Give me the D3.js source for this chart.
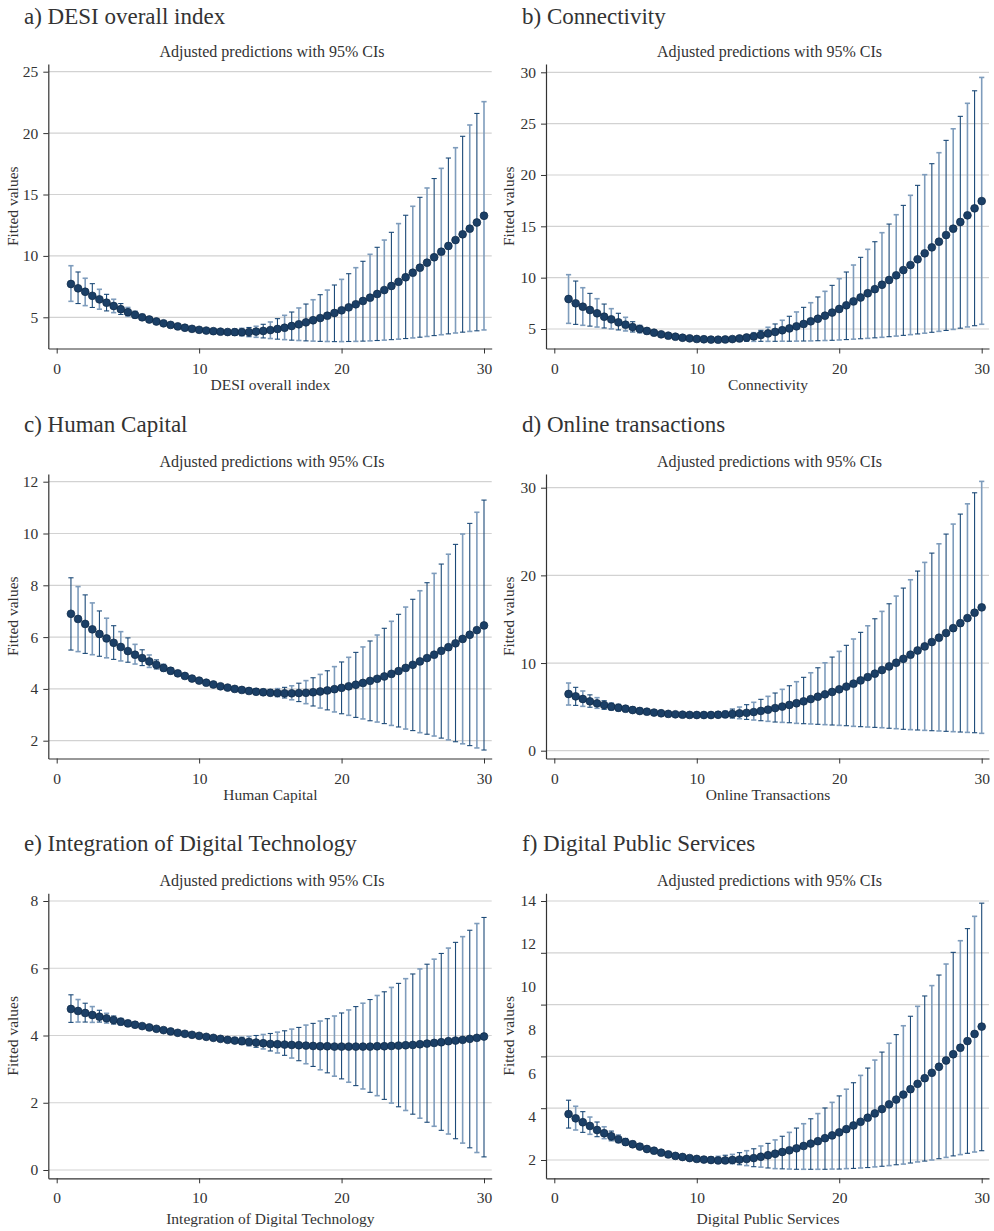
<!DOCTYPE html>
<html>
<head>
<meta charset="utf-8">
<script src="https://cdn.jsdelivr.net/npm/d3@7"></script>
<style>
  html, body { margin: 0; padding: 0; background: #fff; }
  svg { display: block; }
  text { font-family: "Liberation Serif", "DejaVu Serif", serif; fill: #333; }
</style>
</head>
<body>
<svg id="chart" width="994" height="1231"></svg>
<script>
// Evaluation points of the regressor
const xGrid = [1,1.5,2,2.5,3,3.5,4,4.5,5,5.5,6,6.5,7,7.5,8,8.5,9,9.5,10,10.5,
  11,11.5,12,12.5,13,13.5,14,14.5,15,15.5,16,16.5,17,17.5,18,18.5,19,19.5,20,20.5,
  21,21.5,22,22.5,23,23.5,24,24.5,25,25.5,26,26.5,27,27.5,28,28.5,29,29.5,30];

// a) DESI overall index
const desiFit = [7.71,7.36,7.08,6.75,6.46,6.19,5.92,5.66,5.42,5.20,
  5.00,4.82,4.66,4.51,4.38,4.26,4.15,4.06,3.98,3.92,
  3.87,3.83,3.80,3.79,3.79,3.80,3.84,3.89,3.96,4.05,
  4.15,4.29,4.43,4.59,4.76,4.94,5.13,5.35,5.57,5.81,
  6.06,6.33,6.60,6.90,7.22,7.55,7.89,8.26,8.63,9.04,
  9.45,9.89,10.34,10.81,11.29,11.76,12.22,12.72,13.27];
const desiHi = [9.20,8.69,8.18,7.74,7.28,6.87,6.47,6.12,5.80,5.50,
  5.24,5.02,4.83,4.67,4.52,4.39,4.28,4.19,4.11,4.06,
  4.03,4.01,4.02,4.05,4.10,4.17,4.27,4.43,4.62,4.89,
  5.16,5.43,5.76,6.08,6.43,6.84,7.22,7.63,8.09,8.55,
  9.04,9.56,10.13,10.70,11.29,11.92,12.63,13.31,14.04,14.77,
  15.53,16.30,17.13,17.97,18.81,19.74,20.66,21.60,22.56];
const desiLo = [6.30,6.12,5.95,5.80,5.66,5.52,5.38,5.23,5.08,4.93,
  4.78,4.63,4.50,4.36,4.24,4.13,4.03,3.94,3.85,3.78,
  3.71,3.65,3.59,3.53,3.48,3.42,3.37,3.32,3.27,3.22,
  3.18,3.14,3.11,3.08,3.06,3.04,3.03,3.02,3.02,3.03,
  3.04,3.06,3.08,3.11,3.14,3.18,3.22,3.27,3.32,3.38,
  3.44,3.51,3.58,3.65,3.72,3.79,3.85,3.90,3.97];
const desiTicks = [5,10,15,20,25];

// b) Connectivity
const connFit = [7.92,7.50,7.17,6.85,6.53,6.20,5.94,5.65,5.42,5.19,
  5.00,4.81,4.64,4.48,4.35,4.25,4.15,4.09,4.03,4.00,
  3.97,3.96,3.98,4.02,4.08,4.17,4.28,4.42,4.57,4.72,
  4.88,5.06,5.26,5.49,5.75,6.00,6.30,6.60,6.95,7.31,
  7.69,8.07,8.48,8.88,9.31,9.77,10.23,10.74,11.23,11.79,
  12.37,12.95,13.50,14.15,14.77,15.42,16.07,16.75,17.46];
const connHi = [10.29,9.67,9.02,8.47,7.95,7.43,6.98,6.53,6.14,5.71,
  5.36,5.06,4.82,4.63,4.48,4.37,4.27,4.20,4.14,4.12,
  4.11,4.12,4.16,4.22,4.32,4.45,4.64,4.87,5.17,5.49,
  5.85,6.24,6.66,7.11,7.56,8.12,8.67,9.25,9.90,10.55,
  11.23,11.98,12.76,13.50,14.38,15.22,16.13,17.04,18.02,18.99,
  20.03,21.10,22.17,23.37,24.50,25.71,26.98,28.20,29.50];
const connLo = [5.55,5.45,5.36,5.28,5.19,5.10,5.01,4.91,4.81,4.71,
  4.62,4.52,4.43,4.33,4.23,4.14,4.05,3.98,3.92,3.87,
  3.83,3.81,3.80,3.80,3.80,3.80,3.80,3.80,3.80,3.80,
  3.81,3.81,3.82,3.83,3.84,3.86,3.88,3.90,3.93,3.97,
  4.01,4.05,4.09,4.14,4.19,4.25,4.31,4.38,4.45,4.52,
  4.59,4.68,4.77,4.86,4.96,5.08,5.20,5.32,5.46];
const connTicks = [5,10,15,20,25,30];

// c) Human Capital
const hcFit = [6.90,6.70,6.51,6.30,6.12,5.95,5.78,5.62,5.46,5.32,
  5.19,5.06,4.93,4.81,4.70,4.60,4.50,4.40,4.32,4.24,
  4.17,4.10,4.05,4.00,3.96,3.92,3.89,3.87,3.85,3.84,
  3.83,3.83,3.84,3.85,3.87,3.90,3.94,3.99,4.04,4.10,
  4.16,4.23,4.31,4.39,4.48,4.58,4.69,4.81,4.93,5.06,
  5.19,5.32,5.47,5.61,5.76,5.93,6.09,6.27,6.45];
const hcHi = [8.29,7.95,7.63,7.32,7.01,6.73,6.44,6.21,5.97,5.72,
  5.51,5.31,5.12,4.95,4.82,4.70,4.59,4.48,4.40,4.32,
  4.24,4.18,4.13,4.08,4.05,4.02,4.00,3.98,3.98,4.01,
  4.06,4.12,4.22,4.32,4.43,4.56,4.70,4.86,5.04,5.22,
  5.41,5.62,5.85,6.08,6.34,6.61,6.88,7.16,7.46,7.79,
  8.10,8.46,8.82,9.20,9.58,9.98,10.39,10.82,11.29];
const hcLo = [5.50,5.44,5.37,5.32,5.26,5.20,5.14,5.08,5.03,4.96,
  4.90,4.83,4.77,4.68,4.58,4.50,4.41,4.31,4.24,4.16,
  4.09,4.02,3.97,3.92,3.87,3.83,3.79,3.77,3.74,3.70,
  3.65,3.58,3.51,3.43,3.34,3.26,3.19,3.11,3.04,2.98,
  2.90,2.84,2.77,2.72,2.66,2.59,2.53,2.45,2.39,2.31,
  2.25,2.18,2.10,2.03,1.96,1.88,1.81,1.72,1.64];
const hcTicks = [2,4,6,8,10,12];

// d) Online transactions
const otFit = [6.47,6.20,5.90,5.63,5.40,5.21,5.02,4.90,4.79,4.64,
  4.53,4.45,4.35,4.27,4.20,4.15,4.11,4.08,4.07,4.07,
  4.07,4.10,4.14,4.20,4.26,4.32,4.41,4.54,4.68,4.86,
  5.03,5.22,5.41,5.63,5.89,6.16,6.43,6.70,7.00,7.31,
  7.65,8.02,8.40,8.79,9.20,9.61,10.03,10.48,10.95,11.43,
  11.90,12.39,12.89,13.42,13.98,14.55,15.13,15.74,16.35];
const otHi = [7.72,7.23,6.81,6.37,6.05,5.70,5.46,5.30,5.13,4.97,
  4.83,4.70,4.57,4.46,4.38,4.32,4.28,4.26,4.25,4.27,
  4.31,4.40,4.53,4.75,4.98,5.25,5.52,5.86,6.20,6.58,
  7.00,7.41,7.87,8.37,8.89,9.46,10.03,10.68,11.33,12.02,
  12.74,13.50,14.25,15.05,15.89,16.76,17.64,18.55,19.50,20.49,
  21.48,22.54,23.60,24.71,25.85,26.99,28.16,29.42,30.72];
const otLo = [5.21,5.17,5.06,4.96,4.84,4.72,4.62,4.53,4.45,4.36,
  4.28,4.21,4.13,4.07,4.01,3.98,3.95,3.92,3.91,3.90,
  3.88,3.85,3.80,3.72,3.65,3.57,3.50,3.42,3.35,3.27,
  3.23,3.19,3.12,3.08,3.05,3.01,2.97,2.93,2.89,2.85,
  2.78,2.74,2.70,2.66,2.62,2.56,2.51,2.44,2.40,2.36,
  2.32,2.28,2.25,2.21,2.17,2.13,2.09,2.05,1.98];
const otTicks = [0,10,20,30];

// e) Integration of Digital Technology
const idtFit = [4.79,4.73,4.67,4.61,4.56,4.51,4.46,4.41,4.36,4.32,
  4.28,4.24,4.20,4.16,4.12,4.08,4.05,4.02,3.99,3.96,
  3.93,3.90,3.87,3.85,3.83,3.81,3.79,3.77,3.75,3.74,
  3.73,3.72,3.71,3.70,3.69,3.68,3.68,3.67,3.67,3.67,
  3.67,3.67,3.67,3.68,3.68,3.69,3.70,3.71,3.72,3.74,
  3.76,3.78,3.80,3.83,3.85,3.87,3.90,3.93,3.97];
const idtHi = [5.21,5.07,4.96,4.86,4.75,4.66,4.58,4.51,4.45,4.40,
  4.35,4.31,4.26,4.22,4.18,4.14,4.11,4.08,4.05,4.02,
  3.99,3.97,3.95,3.94,3.95,3.97,4.00,4.03,4.06,4.10,
  4.14,4.19,4.24,4.31,4.36,4.43,4.50,4.58,4.67,4.76,
  4.86,4.96,5.07,5.19,5.30,5.43,5.55,5.69,5.83,5.98,
  6.12,6.27,6.44,6.60,6.77,6.94,7.13,7.33,7.51];
const idtLo = [4.39,4.40,4.40,4.39,4.40,4.37,4.34,4.31,4.28,4.25,
  4.22,4.18,4.14,4.10,4.06,4.02,3.99,3.96,3.93,3.90,
  3.87,3.84,3.80,3.77,3.73,3.69,3.65,3.60,3.54,3.48,
  3.41,3.33,3.25,3.16,3.08,2.98,2.89,2.79,2.71,2.61,
  2.51,2.41,2.31,2.21,2.10,1.99,1.88,1.77,1.66,1.54,
  1.42,1.30,1.18,1.07,0.93,0.80,0.66,0.52,0.39];
const idtTicks = [0,2,4,6,8];

// f) Digital Public Services
const dpsFit = [4.13,3.93,3.75,3.58,3.39,3.24,3.10,2.96,2.83,2.73,
  2.62,2.51,2.43,2.34,2.26,2.19,2.14,2.09,2.05,2.02,
  2.00,1.98,1.98,2.00,2.02,2.05,2.09,2.15,2.22,2.29,
  2.37,2.45,2.54,2.65,2.76,2.87,3.01,3.14,3.28,3.43,
  3.60,3.77,3.96,4.16,4.36,4.58,4.80,5.03,5.28,5.53,
  5.79,6.04,6.32,6.61,6.90,7.20,7.51,7.84,8.18];
const dpsHi = [4.77,4.49,4.24,3.99,3.76,3.54,3.34,3.16,3.00,2.87,
  2.75,2.63,2.54,2.45,2.37,2.30,2.25,2.20,2.16,2.14,
  2.14,2.17,2.22,2.26,2.34,2.43,2.52,2.65,2.77,2.93,
  3.10,3.28,3.48,3.68,3.91,4.15,4.41,4.67,4.97,5.28,
  5.58,5.92,6.26,6.63,7.00,7.41,7.81,8.22,8.66,9.12,
  9.60,10.08,10.57,11.08,11.62,12.16,12.72,13.29,13.90];
const dpsLo = [3.48,3.39,3.28,3.19,3.08,2.99,2.89,2.80,2.68,2.60,
  2.50,2.40,2.32,2.23,2.15,2.08,2.03,1.98,1.95,1.93,
  1.91,1.90,1.88,1.83,1.78,1.74,1.69,1.67,1.63,1.60,
  1.59,1.58,1.57,1.57,1.57,1.57,1.57,1.58,1.58,1.60,
  1.61,1.63,1.65,1.68,1.71,1.74,1.78,1.81,1.86,1.91,
  1.95,2.00,2.06,2.12,2.19,2.25,2.31,2.37,2.43];
const dpsTicks = [2,4,6,8,10,12,14];
const dpsGrid = [2,4.4,6.8,9.2,11.6,14];

const xTicks = [0,10,20,30];
const subtitle = "Adjusted predictions with 95% CIs";
const yTitle = "Fitted values";

// Page geometry of the two columns and three rows
const cols = [
  { axisX: 48.3, x0: 56.7, x30: 484, right: 491.7, titleX: 24, yTitleX: 18 },
  { axisX: 546, x0: 554.3, x30: 981.7, right: 989, titleX: 522, yTitleX: 513.5 }
];
const rows = [
  { top: 64, bottom: 348.5, titleY: 23.5, subY: 57, xTitleY: 390 },
  { top: 474, bottom: 758.5, titleY: 432, subY: 467, xTitleY: 800 },
  { top: 893.3, bottom: 1178.3, titleY: 851, subY: 886, xTitleY: 1224 }
];

const panels = [
  { title: "a) DESI overall index", xLabel: "DESI overall index", fit: desiFit, lo: desiLo, hi: desiHi,
    ticks: desiTicks, col: 0, row: 0, yCal: [5, 317.3, 25, 71.7], darkEven: false },
  { title: "b) Connectivity", xLabel: "Connectivity", fit: connFit, lo: connLo, hi: connHi,
    ticks: connTicks, col: 1, row: 0, yCal: [5, 329, 30, 72.3], darkEven: false },
  { title: "c) Human Capital", xLabel: "Human Capital", fit: hcFit, lo: hcLo, hi: hcHi,
    ticks: hcTicks, col: 0, row: 1, yCal: [2, 740.7, 12, 481.7], darkEven: true },
  { title: "d) Online transactions", xLabel: "Online Transactions", fit: otFit, lo: otLo, hi: otHi,
    ticks: otTicks, col: 1, row: 1, yCal: [0, 750.7, 30, 487.7], darkEven: false },
  { title: "e) Integration of Digital Technology", xLabel: "Integration of Digital Technology", fit: idtFit, lo: idtLo, hi: idtHi,
    ticks: idtTicks, col: 0, row: 2, yCal: [0, 1170, 8, 901], darkEven: true },
  { title: "f) Digital Public Services", xLabel: "Digital Public Services", fit: dpsFit, lo: dpsLo, hi: dpsHi,
    ticks: dpsTicks, grid: dpsGrid, col: 1, row: 2, yCal: [2, 1160, 14, 901], darkEven: true }
];

const svg = d3.select("#chart");
const darkBar = "#1c4a78", lightBar = "#7e9cbc";
const markFill = "#1b3f66", markStroke = "#0f2a47";
const smallFont = 15.5;

panels.forEach(p => {
  const c = cols[p.col], r = rows[p.row];

  // x scale calibrated on the 0 and 30 ticks, then stretched to the axis line
  const xc = d3.scaleLinear().domain([0, 30]).range([c.x0, c.x30]);
  const x = d3.scaleLinear().domain([xc.invert(c.axisX), xc.invert(c.right)]).range([c.axisX, c.right]);
  const yc = d3.scaleLinear().domain([p.yCal[0], p.yCal[2]]).range([p.yCal[1], p.yCal[3]]);
  const y = d3.scaleLinear().domain([yc.invert(r.bottom), yc.invert(r.top)]).range([r.bottom, r.top]);

  const g = svg.append("g");

  // panel heading and subtitle
  g.append("text").attr("x", c.titleX).attr("y", r.titleY)
    .attr("font-size", 23).text(p.title);
  g.append("text").attr("x", (c.axisX + c.right) / 2 + 2).attr("y", r.subY)
    .attr("text-anchor", "middle").attr("font-size", 16).text(subtitle);

  // horizontal grid
  const gridVals = p.grid || p.ticks;
  g.append("g").selectAll("line").data(gridVals).join("line")
    .attr("x1", c.axisX).attr("x2", c.right)
    .attr("y1", d => y(d)).attr("y2", d => y(d))
    .attr("stroke", "#d2d2d2").attr("stroke-width", 1.2);

  // y axis
  const yAxis = d3.axisLeft(y).tickSize(5).tickPadding(5).tickSizeOuter(0);
  if (p.grid) yAxis.tickValues(p.grid).tickFormat("");
  else yAxis.tickValues(p.ticks).tickFormat(d3.format("d"));
  const ya = g.append("g").attr("transform", `translate(${c.axisX},0)`).call(yAxis);
  ya.selectAll("text").attr("font-size", smallFont).attr("fill", "#333")
    .attr("font-family", "Liberation Serif");
  ya.selectAll("line").attr("stroke", "#333");
  ya.select(".domain").attr("stroke", "#333").attr("stroke-width", 1.2);
  if (p.grid) {
    g.append("g").selectAll("text").data(p.ticks).join("text")
      .attr("x", c.axisX - 10).attr("y", d => y(d)).attr("dy", "0.32em")
      .attr("text-anchor", "end").attr("font-size", smallFont).text(d => d);
  }

  // x axis
  const xAxis = d3.axisBottom(x).tickValues(xTicks).tickSize(5).tickPadding(9)
    .tickSizeOuter(0).tickFormat(d3.format("d"));
  const xa = g.append("g").attr("transform", `translate(0,${r.bottom})`).call(xAxis);
  xa.selectAll("text").attr("font-size", smallFont).attr("fill", "#333")
    .attr("font-family", "Liberation Serif");
  xa.selectAll("line").attr("stroke", "#333");
  xa.select(".domain").attr("stroke", "#333").attr("stroke-width", 1.2);

  // axis titles
  g.append("text").attr("x", (c.x0 + c.x30) / 2).attr("y", r.xTitleY)
    .attr("text-anchor", "middle").attr("font-size", smallFont).text(p.xLabel);
  g.append("text")
    .attr("transform", `translate(${c.yTitleX},${(r.top + r.bottom) / 2}) rotate(-90)`)
    .attr("text-anchor", "middle").attr("font-size", smallFont).text(yTitle);

  // confidence intervals with caps
  const rowsData = xGrid.map((xv, i) => ({ x: xv, fit: p.fit[i], lo: p.lo[i], hi: p.hi[i], i }));
  const colorOf = d => ((d.i % 2 === 0) === p.darkEven) ? darkBar : lightBar;
  const widthOf = d => ((d.i % 2 === 0) === p.darkEven) ? 1.1 : 1.6;
  const bars = g.append("g").selectAll("g").data(rowsData).join("g")
    .attr("stroke", colorOf).attr("stroke-width", widthOf);
  bars.append("line")
    .attr("x1", d => x(d.x)).attr("x2", d => x(d.x))
    .attr("y1", d => y(d.lo)).attr("y2", d => y(d.hi));
  bars.append("line")
    .attr("x1", d => x(d.x) - 2.6).attr("x2", d => x(d.x) + 2.6)
    .attr("y1", d => y(d.hi)).attr("y2", d => y(d.hi));
  bars.append("line")
    .attr("x1", d => x(d.x) - 2.6).attr("x2", d => x(d.x) + 2.6)
    .attr("y1", d => y(d.lo)).attr("y2", d => y(d.lo));

  // predicted values
  g.append("g").selectAll("circle").data(rowsData).join("circle")
    .attr("cx", d => x(d.x)).attr("cy", d => y(d.fit)).attr("r", 3.9)
    .attr("fill", markFill).attr("stroke", markStroke).attr("stroke-width", 0.7);
});
</script>
</body>
</html>
